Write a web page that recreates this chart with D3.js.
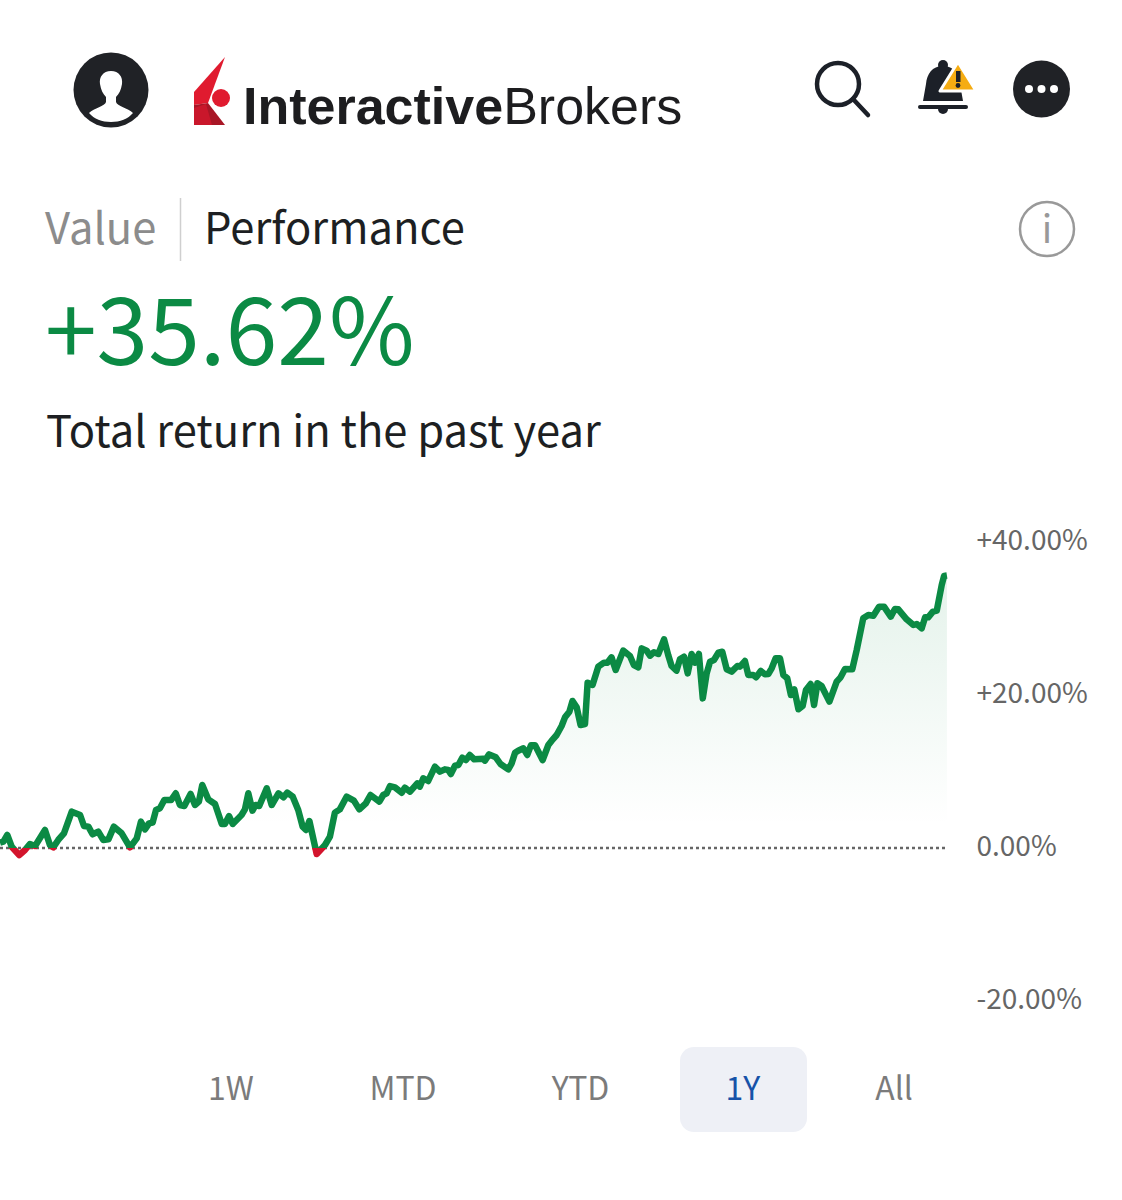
<!DOCTYPE html>
<html>
<head>
<meta charset="utf-8">
<script src="https://cdn.jsdelivr.net/npm/d3@7"></script>
<style>
  body { margin: 0; background: #fff; }
  text { font-family: "Noto Sans CJK SC", "Noto Sans", sans-serif; }
</style>
</head>
<body>
<svg id="chart" width="1122" height="1200"></svg>
<script>
// day of the year
var days = [0,1.3,2.8,4.5,7.4,9.6,11.5,13.5,17.3,19.2,20.5,22.4,24.6,27.6,30.8,32.3,34,35.6,37.8,39.7,41.7,43.8,46.8,50,52.6,54.2,55.8,57.3,58.7,60,61.5,63.2,65.8,67.6,69.2,70.9,73.3,75,76.5,77.8,80.1,82.7,85.3,86.5,88.1,89.5,92.9,94.2,95.5,97.1,98.3,99.7,102.6,104.5,107.1,109,110.5,112.6,114.7,116.4,117.7,119,121.8,125,126.9,128.8,130.7,133.3,136.1,138.2,140.7,142.5,145.9,147.4,148.7,150,151.9,154.5,155.7,157.7,160.5,161.5,162.8,164.7,167.3,169.2,171.1,172.4,173.4,175,176.3,177.8,179.2,180.7,182.4,185.9,186.5,188.1,190.7,192.5,195.5,196.8,198.1,199.3,201.3,202.8,204.2,205.8,208.7,210.9,212.2,214.1,216,217.3,219,220.2,221.8,223.3,225,226,227.9,230.1,232.3,233.6,235.2,236.8,239.7,242.3,243.8,245.5,246.8,248.7,250,251.5,253.2,255.4,257,258.3,260.2,261.5,263.1,264.5,266,267.3,268.8,270.3,271.8,273.1,274.6,276.3,277.8,279.5,281.4,283.6,284.6,286.5,287.8,289.7,290.8,292.6,294.2,295.5,296.8,298.3,300,301.3,302.8,304.2,305.5,307.1,308.7,310,311.8,313.1,314.4,316,319,321.8,323.3,325,327.8,329.5,332,334,335.9,338.1,340,342.6,344.2,345.5,348.7,351.3,352.6,354.5,355.8,357,358.8,360.3,362.2,363.1,364.2];
// total return in percent
var returns = [0.7,0.83,1.7,0.17,-0.92,-0.26,0.52,0.26,2.35,0.39,0.09,1.05,1.92,4.75,4.31,2.88,2.79,1.79,2.14,1.05,1.13,2.79,1.92,0.09,1.26,3.44,2.44,3.22,3.31,4.97,5.19,6.27,6.27,7.15,5.62,5.49,7.06,5.62,6.06,8.24,6.36,5.75,3.14,3.14,4.18,3.14,4.31,5.05,7.15,4.88,5.62,5.49,7.8,5.62,7.15,6.62,7.23,6.71,4.97,2.79,2.35,3.53,-0.78,0.39,1.48,4.62,5.05,6.71,6.19,5.05,5.84,6.93,6.06,6.93,7.15,8.1,7.93,7.23,7.89,7.36,8.45,8.02,9.11,8.76,10.63,9.98,10.28,10.2,9.67,10.76,10.85,11.81,11.5,12.16,11.59,11.68,11.42,12.24,11.85,10.98,10.28,11.07,12.46,12.72,13.03,12.16,13.42,13.42,11.5,13.46,14.03,14.77,15.95,17.08,17.82,19.22,18.39,16.08,16.21,21.61,21.31,23.7,24.23,24.23,24.92,23.27,25.8,25.1,23.92,23.62,26.1,25.8,25.14,25.58,25.36,27.28,25.23,23.79,23.18,24.66,25.01,22.83,25.36,24.23,25.36,19.56,22.83,24.36,24.58,25.53,25.66,23.36,23.05,23.79,23.7,24.44,22.61,22.61,22.31,23.14,22.7,22.75,23.49,24.79,24.79,22.61,22.18,20,20.74,18.13,18.56,20.65,21.44,18.69,21.53,21.18,19.13,21.74,22.31,23.4,23.36,25.88,30.02,30.46,30.37,31.55,31.55,30.24,31.24,31.2,29.89,29.15,29.28,28.71,30.15,30.15,30.89,31.02,34.38,35.56,35.62];
var yTicks = [40, 20, 0, -20];
var ranges = ["1W", "MTD", "YTD", "1Y", "All"];
var rangeCentres = [231, 403, 580.5, 743, 894];

var GREEN = "#0b8a44", RED = "#d3142c", DARK = "#202226", ICON = "#1c2028";

var svg = d3.select("#chart");
var x = d3.scaleLinear().domain([0, 365]).range([0, 949]);
var y = d3.scaleLinear().domain([-20, 40]).range([1001, 542]);
var points = days.map(function(d, i) { return [d, returns[i]]; });

var defs = svg.append("defs");
var grad = defs.append("linearGradient").attr("id", "fade")
  .attr("gradientUnits", "userSpaceOnUse")
  .attr("x1", 0).attr("x2", 0).attr("y1", y(36)).attr("y2", y(3));
grad.append("stop").attr("offset", 0).attr("stop-color", GREEN).attr("stop-opacity", 0.11);
grad.append("stop").attr("offset", 1).attr("stop-color", GREEN).attr("stop-opacity", 0);
defs.append("clipPath").attr("id", "above").append("rect")
  .attr("x", 0).attr("y", 0).attr("width", 1122).attr("height", y(0));
defs.append("clipPath").attr("id", "below").append("rect")
  .attr("x", 0).attr("y", y(0)).attr("width", 1122).attr("height", 100);

// area under the line
svg.append("path").datum(points)
  .attr("fill", "url(#fade)")
  .attr("d", d3.area().x(function(d) { return x(d[0]); }).y0(y(0)).y1(function(d) { return y(d[1]); }));

// zero line
svg.append("line")
  .attr("x1", 0).attr("x2", x(364)).attr("y1", y(0)).attr("y2", y(0))
  .attr("stroke", "#666").attr("stroke-width", 2.5).attr("stroke-dasharray", "3 3");

var line = d3.line().x(function(d) { return x(d[0]); }).y(function(d) { return y(d[1]); });
[["above", GREEN], ["below", RED]].forEach(function(s) {
  svg.append("path").datum(points)
    .attr("clip-path", "url(#" + s[0] + ")")
    .attr("fill", "none").attr("stroke", s[1]).attr("stroke-width", 6.5)
    .attr("stroke-linejoin", "round")
    .attr("d", line);
});

// right axis
var axis = svg.append("g").attr("transform", "translate(976.5,0)")
  .call(d3.axisRight(y).tickValues(yTicks).tickSize(0).tickPadding(0).tickFormat(function(d) {
    return (d > 0 ? "+" : "") + d.toFixed(2) + "%";
  }));
axis.select(".domain").remove();
axis.selectAll("text")
  .attr("dy", "0.26em")
  .attr("fill", "#666").style("font-size", "28px")
  .style("font-family", '"Noto Sans CJK SC", sans-serif');

// headings
svg.append("text").attr("x", 45).attr("y", 244).attr("fill", "#8c8c8c").style("font-size", "43.5px").text("Value");
svg.append("line").attr("x1", 180.5).attr("x2", 180.5).attr("y1", 198).attr("y2", 261).attr("stroke", "#cfcfcf").attr("stroke-width", 1.5);
svg.append("text").attr("x", 204).attr("y", 244).attr("fill", "#1d1f22").style("font-size", "43.5px").text("Performance");
svg.append("text").attr("x", 45).attr("y", 365).attr("fill", GREEN).style("font-size", "93px").text("+35.62%");
svg.append("text").attr("x", 46).attr("y", 447).attr("fill", "#1d1f22").style("font-size", "43.5px").text("Total return in the past year");

svg.append("circle").attr("cx", 1047).attr("cy", 229).attr("r", 27).attr("fill", "none").attr("stroke", "#999").attr("stroke-width", 2.5);
svg.append("text").attr("x", 1047).attr("y", 243).attr("text-anchor", "middle").attr("fill", "#999").style("font-size", "38px").text("i");

// range buttons
svg.append("rect").attr("x", 680).attr("y", 1047).attr("width", 127).attr("height", 85).attr("rx", 14).attr("fill", "#eef0f6");
svg.selectAll(".range").data(ranges).enter().append("text")
  .attr("class", "range")
  .attr("x", function(d, i) { return rangeCentres[i]; })
  .attr("y", 1100).attr("text-anchor", "middle")
  .attr("fill", function(d) { return d == "1Y" ? "#1652a8" : "#7b7b7b"; })
  .style("font-size", "32px")
  .text(function(d) { return d; });

// header: person icon
svg.append("circle").attr("cx", 111).attr("cy", 90).attr("r", 37.5).attr("fill", DARK);
svg.append("path").attr("fill", "#fff")
  .attr("d", "M111 71c-8 0-12 6-11 13 1 6 3 10 6 13v5c-1 4-12 6-17 11 5 6 13 9 22 9s17-3 22-9c-5-5-16-7-17-11v-5c3-3 5-7 6-13 1-7-3-13-11-13z");

// header: logo
svg.append("path").attr("fill", "#e01b2f").attr("d", "M225 57L194 92V105L208 103z");
svg.append("path").attr("fill", "#a81626").attr("d", "M194 105L208 103L225 125H194z");
svg.append("path").attr("fill", "#c9172b").attr("d", "M194 125V108L206 104L212 125z");
svg.append("circle").attr("cx", 221).attr("cy", 98).attr("r", 9).attr("fill", "#e01b2f");
var logo = svg.append("text").attr("x", 243).attr("y", 124).attr("fill", "#1d1d1f")
  .style("font-family", '"Liberation Sans", sans-serif').style("font-size", "52px");
logo.append("tspan").style("font-weight", "bold").text("Interactive");
logo.append("tspan").text("Brokers");

// header: search
svg.append("circle").attr("cx", 838).attr("cy", 84).attr("r", 21).attr("fill", "none").attr("stroke", ICON).attr("stroke-width", 4.5);
svg.append("line").attr("x1", 853).attr("y1", 99).attr("x2", 868).attr("y2", 115).attr("stroke", ICON).attr("stroke-width", 4.5).attr("stroke-linecap", "round");

// header: bell with warning
svg.append("circle").attr("cx", 943).attr("cy", 65).attr("r", 5).attr("fill", ICON);
svg.append("path").attr("fill", ICON).attr("d", "M943 66c-11 0-16 8-17 18l-3 17h40l-3-17c-1-10-6-18-17-18z");
svg.append("rect").attr("x", 918).attr("y", 105).attr("width", 50).attr("height", 4).attr("rx", 2).attr("fill", ICON);
svg.append("path").attr("fill", ICON).attr("d", "M938 109h10a5 5 0 0 1-10 0z");
svg.append("path").attr("fill", "#f5ac12").attr("stroke", "#fff").attr("stroke-width", 3).attr("stroke-linejoin", "round").attr("d", "M958 62L940 91H976z");
svg.append("rect").attr("x", 956).attr("y", 71).attr("width", 4.5).attr("height", 11).attr("fill", ICON);
svg.append("circle").attr("cx", 958).attr("cy", 85.5).attr("r", 2.4).attr("fill", ICON);

// header: more button
svg.append("circle").attr("cx", 1041.5).attr("cy", 89).attr("r", 28.5).attr("fill", DARK);
[1029, 1041.5, 1054].forEach(function(cx) {
  svg.append("circle").attr("cx", cx).attr("cy", 89).attr("r", 4).attr("fill", "#fff");
});
</script>
</body>
</html>
